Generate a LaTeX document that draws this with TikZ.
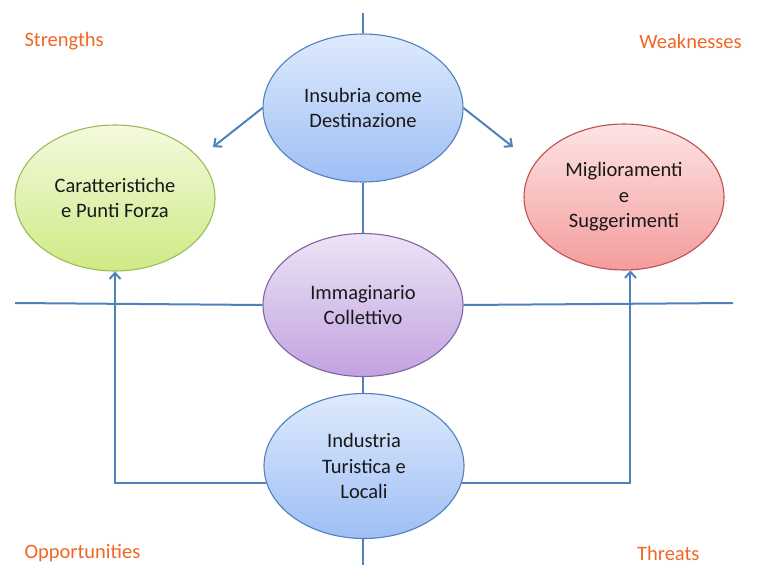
\documentclass[tikz,border=0pt]{standalone}
\usepackage{fontspec}
\setmainfont{Carlito}
\usetikzlibrary{shapes.geometric,arrows.meta}
\definecolor{lineblue}{RGB}{79,129,189}
\definecolor{labelorange}{RGB}{242,101,34}
\definecolor{bluetop}{RGB}{222,234,252}
\definecolor{bluebot}{RGB}{158,190,245}
\definecolor{greentop}{RGB}{244,250,222}
\definecolor{greenbot}{RGB}{206,234,132}
\definecolor{greenedge}{RGB}{155,187,89}
\definecolor{redtop}{RGB}{253,228,228}
\definecolor{redbot}{RGB}{244,156,156}
\definecolor{rededge}{RGB}{192,80,77}
\definecolor{purpletop}{RGB}{236,228,246}
\definecolor{purplebot}{RGB}{194,162,224}
\definecolor{purpleedge}{RGB}{128,100,162}
\tikzset{
  bubble/.style={ellipse, minimum width=200pt, minimum height=146pt, inner sep=0pt,
    line width=1.1pt, align=center, font=\fontsize{20.5}{25.5}\selectfont, text=black!90},
  bluebubble/.style={bubble, draw=lineblue, top color=bluetop, bottom color=bluebot},
  greenbubble/.style={bubble, draw=greenedge, top color=greentop, bottom color=greenbot},
  redbubble/.style={bubble, draw=rededge, top color=redtop, bottom color=redbot},
  purplebubble/.style={bubble, draw=purpleedge, top color=purpletop, bottom color=purplebot},
  link/.style={draw=lineblue, line width=2pt},
  arrowlink/.style={link, -{Straight Barb[length=6pt,width=11pt,line width=2pt]}},
  corner/.style={text=labelorange, font=\fontsize{20.5}{24}\selectfont}
}
\begin{document}
\begin{tikzpicture}[x=1pt,y=-1pt]
\useasboundingbox (0,0) rectangle (757,565);

% free ends of the crossing axes and of the two upper arrows
\coordinate (vtop) at (363,13);
\coordinate (vbot) at (363,565);
\coordinate (hleft) at (15,303);
\coordinate (hright) at (733,303);
\coordinate (leftend) at (213,147);
\coordinate (rightend) at (513,147);

% the bubbles
\node[bluebubble, minimum height=148pt] (ins) at (363,108) {Insubria come\\Destinazione};
\node[greenbubble] (car) at (115,198) {Caratteristiche\\e Punti Forza};
\node[redbubble] (mig) at (624,197) {Miglioramenti\\e\\Suggerimenti};
\node[purplebubble, minimum height=143pt] (imm) at (363,305) {Immaginario\\Collettivo};
\node[bluebubble, minimum height=145pt] (ind) at (364,466) {Industria\\Turistica e\\Locali};

% vertical axis
\draw[link] (vtop) -- (ins.north);
\draw[link] (ins.south) -- (imm.north);
\draw[link] (imm.south) -- (imm.south |- ind.north);
\draw[link] (ind.south -| vbot) -- (vbot);

% horizontal axis
\draw[link] (hleft) -- (imm.west);
\draw[link] (imm.east) -- (hright);

% arrows from the destination
\draw[arrowlink] (ins.west) -- (leftend);
\draw[arrowlink] (ins.east) -- (rightend);

% arrows from the tourism industry
\draw[arrowlink] (ind.190.5) -| (car.south);
\draw[arrowlink] (ind.-10.5) -| (mig.-85.3);

% quadrant labels
\node[corner, anchor=west] (s) at (21,41) {Strengths};
\node[corner, anchor=east] (w) at (745,41) {Weaknesses};
\node[corner, anchor=west] (o) at (21,553) {Opportunities};
\node[corner, anchor=east] (t) at (703,553) {Threats};
\end{tikzpicture}
\end{document}
